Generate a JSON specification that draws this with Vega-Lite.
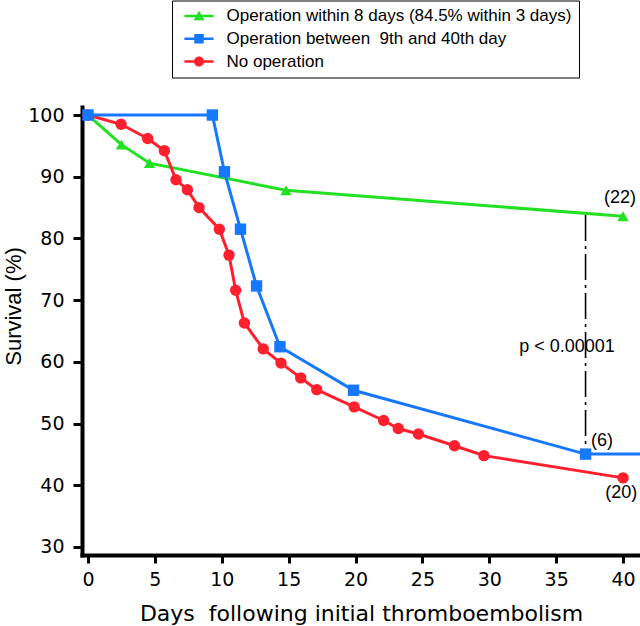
{
  "$schema": "https://vega.github.io/schema/vega-lite/v6.json",
  "width": 558,
  "height": 448,
  "autosize": {"type": "none"},
  "padding": {"left": 82, "top": 107, "right": 0, "bottom": 71},
  "background": "white",
  "config": {"view": {"stroke": null}, "font": "Liberation Sans"},
  "datasets": {
    "curves": [
      {"series": "Operation within 8 days (84.5% within 3 days)", "day": 0, "survival": 100},
      {"series": "Operation within 8 days (84.5% within 3 days)", "day": 2.5, "survival": 95.2},
      {"series": "Operation within 8 days (84.5% within 3 days)", "day": 4.6, "survival": 92.2},
      {"series": "Operation within 8 days (84.5% within 3 days)", "day": 14.8, "survival": 87.8},
      {"series": "Operation within 8 days (84.5% within 3 days)", "day": 40.0, "survival": 83.6},
      {"series": "No operation", "day": 0, "survival": 100},
      {"series": "No operation", "day": 2.47, "survival": 98.5},
      {"series": "No operation", "day": 4.46, "survival": 96.2},
      {"series": "No operation", "day": 5.71, "survival": 94.2},
      {"series": "No operation", "day": 6.58, "survival": 89.5},
      {"series": "No operation", "day": 7.43, "survival": 87.9},
      {"series": "No operation", "day": 8.3, "survival": 85.0},
      {"series": "No operation", "day": 9.82, "survival": 81.5},
      {"series": "No operation", "day": 10.54, "survival": 77.3},
      {"series": "No operation", "day": 11.04, "survival": 71.6},
      {"series": "No operation", "day": 11.69, "survival": 66.3},
      {"series": "No operation", "day": 13.1, "survival": 62.1},
      {"series": "No operation", "day": 14.43, "survival": 59.8},
      {"series": "No operation", "day": 15.9, "survival": 57.4},
      {"series": "No operation", "day": 17.1, "survival": 55.5},
      {"series": "No operation", "day": 19.9, "survival": 52.7},
      {"series": "No operation", "day": 22.1, "survival": 50.5},
      {"series": "No operation", "day": 23.2, "survival": 49.2},
      {"series": "No operation", "day": 24.7, "survival": 48.3},
      {"series": "No operation", "day": 27.4, "survival": 46.4},
      {"series": "No operation", "day": 29.6, "survival": 44.8},
      {"series": "No operation", "day": 40.0, "survival": 41.2},
      {"series": "Operation between \u00a09th and 40th day", "day": 0, "survival": 100},
      {"series": "Operation between \u00a09th and 40th day", "day": 9.3, "survival": 100},
      {"series": "Operation between \u00a09th and 40th day", "day": 10.2, "survival": 90.8},
      {"series": "Operation between \u00a09th and 40th day", "day": 11.4, "survival": 81.5},
      {"series": "Operation between \u00a09th and 40th day", "day": 12.6, "survival": 72.3},
      {"series": "Operation between \u00a09th and 40th day", "day": 14.35, "survival": 62.45},
      {"series": "Operation between \u00a09th and 40th day", "day": 19.85, "survival": 55.4},
      {"series": "Operation between \u00a09th and 40th day", "day": 37.2, "survival": 45.05},
      {"series": "Operation between \u00a09th and 40th day", "day": 41.5, "survival": 45.05}
    ],
    "notes": [
      {"label": "(22)", "day": 39.78, "survival": 85.68},
      {"label": "(6)", "day": 38.42, "survival": 46.29},
      {"label": "(20)", "day": 39.86, "survival": 38.01},
      {"label": "p < 0.00001", "day": 35.81, "survival": 61.64}
    ],
    "bracket": [
      {"day": 37.2, "survival": 83.8, "survival_end": 45.05}
    ]
  },
  "encoding": {
    "x": {
      "field": "day",
      "type": "quantitative",
      "scale": {"domain": [-0.45, 41.27], "nice": false, "zero": false},
      "axis": {
        "values": [0, 5, 10, 15, 20, 25, 30, 35, 40],
        "title": "Days \u00a0following initial thromboembolism",
        "titleFont": "DejaVu Sans",
        "titleFontSize": 22,
        "titleFontWeight": "normal",
        "titleColor": "black",
        "titleBaseline": "alphabetic",
        "titleY": 65,
        "labelFont": "DejaVu Sans",
        "labelFontSize": 19,
        "labelColor": "black",
        "labelPadding": 7,
        "labelFlush": false,
        "labelOverlap": false,
        "tickSize": 8,
        "tickWidth": 3,
        "tickColor": "black",
        "domainColor": "black",
        "domainWidth": 4,
        "domainCap": "square",
        "grid": false
      }
    },
    "y": {
      "field": "survival",
      "type": "quantitative",
      "scale": {"domain": [28.7, 101.3], "nice": false, "zero": false},
      "axis": {
        "values": [30, 40, 50, 60, 70, 80, 90, 100],
        "title": "Survival (%)",
        "titleFont": "Liberation Sans",
        "titleFontSize": 22,
        "titleFontWeight": "normal",
        "titleColor": "black",
        "titleAngle": 270,
        "titleAlign": "center",
        "titleBaseline": "alphabetic",
        "titleX": -61.5,
        "titleY": 199,
        "labelFont": "DejaVu Sans",
        "labelFontSize": 19,
        "labelColor": "black",
        "labelPadding": 9,
        "labelOverlap": false,
        "tickSize": 9,
        "tickWidth": 3,
        "tickColor": "black",
        "domainColor": "black",
        "domainWidth": 4,
        "domainCap": "square",
        "grid": false
      }
    }
  },
  "layer": [
    {
      "data": {"name": "bracket"},
      "mark": {"type": "rule", "stroke": "black", "strokeWidth": 1.6, "strokeDash": [26, 5, 3, 5]},
      "encoding": {"y2": {"field": "survival_end"}}
    },
    {
      "data": {"name": "curves"},
      "mark": {"type": "line", "strokeWidth": 3, "clip": true},
      "encoding": {
        "color": {
          "field": "series",
          "type": "nominal",
          "scale": {
            "domain": ["Operation within 8 days (84.5% within 3 days)", "Operation between \u00a09th and 40th day", "No operation"],
            "range": ["#22e022", "#1677ff", "#ff1f2d"]
          },
          "legend": null
        }
      }
    },
    {
      "data": {"name": "curves"},
      "transform": [{"filter": "datum.day <= 40.5"}],
      "mark": {"type": "point", "filled": true, "size": 130, "opacity": 1},
      "encoding": {
        "color": {
          "field": "series",
          "type": "nominal",
          "scale": {
            "domain": ["Operation within 8 days (84.5% within 3 days)", "Operation between \u00a09th and 40th day", "No operation"],
            "range": ["#22e022", "#1677ff", "#ff1f2d"]
          },
          "legend": null
        },
        "shape": {
          "field": "series",
          "type": "nominal",
          "scale": {
            "domain": ["Operation within 8 days (84.5% within 3 days)", "Operation between \u00a09th and 40th day", "No operation"],
            "range": ["triangle-up", "square", "circle"]
          },
          "legend": null
        }
      }
    },
    {
      "data": {"name": "curves"},
      "transform": [{"filter": "datum.day < -100"}],
      "mark": {"type": "point", "filled": true, "size": 144, "opacity": 1},
      "encoding": {
        "color": {
          "field": "series",
          "type": "nominal",
          "scale": {
            "domain": ["Operation within 8 days (84.5% within 3 days)", "Operation between \u00a09th and 40th day", "No operation"],
            "range": ["#22e022", "#1677ff", "#ff1f2d"]
          },
          "legend": {
            "title": null,
            "orient": "none",
            "legendX": 90,
            "legendY": -106.5,
            "labelFont": "Liberation Sans",
            "labelFontSize": 17,
            "labelColor": "black",
            "labelLimit": 600,
            "padding": 7,
            "rowPadding": 4.8,
            "symbolOffset": 11.5,
            "labelOffset": 19,
            "strokeColor": "black",
            "fillColor": "white",
            "symbolStrokeWidth": 0,
            "encode": {"legend": {"update": {"strokeWidth": {"value": 3}}}}
          }
        },
        "shape": {
          "field": "series",
          "type": "nominal",
          "scale": {
            "domain": ["Operation within 8 days (84.5% within 3 days)", "Operation between \u00a09th and 40th day", "No operation"],
            "range": [
              "M-2.92,-0.25H2.92V0.25H-2.92Z M0,-1.05L1.1,0.85L-1.1,0.85Z",
              "M-2.92,-0.25H2.92V0.25H-2.92Z M-0.95,-0.95H0.95V0.95H-0.95Z",
              "M-2.92,-0.25H2.92V0.25H-2.92Z M0,-1A1,1 0 1,1 0,1A1,1 0 1,1 0,-1Z"
            ]
          },
          "legend": {}
        }
      }
    },
    {
      "data": {"name": "notes"},
      "mark": {"type": "text", "font": "Liberation Sans", "fontSize": 18, "color": "black", "baseline": "alphabetic", "align": "center"},
      "encoding": {"text": {"field": "label"}}
    }
  ],
  "resolve": {"scale": {"shape": "independent", "color": "independent"}}
}
